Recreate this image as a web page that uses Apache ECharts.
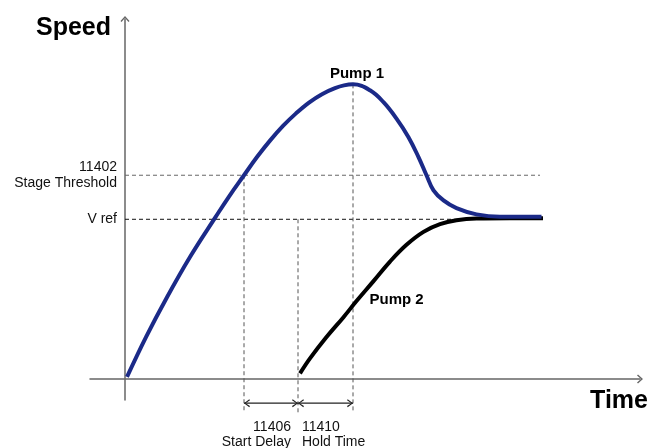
<!DOCTYPE html>
<html>
<head>
<meta charset="utf-8">
<script src="https://cdn.jsdelivr.net/npm/echarts@6/dist/echarts.min.js"></script>
<style>
  html, body { margin: 0; padding: 0; background: #fff; }
  #chart { width: 648px; height: 448px; }
</style>
</head>
<body>
<div id="chart"></div>
<script>
// schematic units: time on x, speed on y
const pump1Time = [0.4, 4.2, 8.4, 13, 18.1, 20.7, 23.8, 26.4, 29, 31.6, 34.2, 36.8, 39.4, 42, 43.8, 45.6,
  49, 51.7, 54.3, 56.7, 58.7, 60.3, 61.7, 63.7, 66.3, 70.3, 75, 83.3];
const pump1Speed = [0.6, 12, 23.4, 34.9, 46.3, 52, 58.3, 63.5, 68.2, 72.4, 76, 79.1, 81.5, 83.2, 84, 84.3,
  82.6, 79.2, 74.5, 69.2, 63.5, 58.3, 54, 51.1, 48.9, 47.1, 46.4, 46.4];
const pump2Time = [35, 37, 40.3, 43.7, 46.3, 49.7, 53, 56.3, 59.7, 63, 66.3, 70.3, 77, 83.6];
const pump2Speed = [1.6, 5.9, 12, 17.7, 22.3, 28, 33.6, 38.4, 42.1, 44.3, 45.4, 45.9, 46, 46];

const thresholdSpeed = 58.3;
const vrefSpeed = 45.7;
const speedTicks = [thresholdSpeed, vrefSpeed];
const speedTickLabels = ["11402\nStage Threshold", "V ref"];

// threshold crossing, pump 2 start, pump 1 peak
const markTimes = [23.8, 34.6, 45.6];
const markTops = [thresholdSpeed, vrefSpeed, 84.3];
const guideBottom = -9.7;
const dimSpeed = -6.9;
const dimLabels = ["11406\nStart Delay", "11410\nHold Time"];

const font = "Liberation Sans, Arial, sans-serif";
const axisArrow = "path://M4.5,0 L9,5 L8,6 L4.5,2 L1,6 L0,5 Z";
const chevL = "path://M0,4 L6,0 L6.8,1.1 L1.8,4 L6.8,6.9 L6,8 Z";
const chevR = "path://M7,4 L1,0 L0.2,1.1 L5.2,4 L0.2,6.9 L1,8 Z";

const peakIdx = 15;
const pump2LabelIdx = 4;

const chart = echarts.init(document.getElementById("chart"));

function guide(data, color) {
  return {
    type: "line",
    data: data,
    symbol: "none",
    clip: false,
    silent: true,
    lineStyle: { color: color, width: 1, type: [4, 3] },
    z: 1
  };
}

function dimension(t0, t1) {
  return {
    type: "line",
    data: [
      { value: [t0, dimSpeed], symbol: chevL, symbolOffset: [3, 0] },
      { value: [t1, dimSpeed], symbol: chevR, symbolOffset: [-3, 0] }
    ],
    showSymbol: true,
    symbolSize: [6, 8],
    clip: false,
    silent: true,
    itemStyle: { color: "#222" },
    lineStyle: { color: "#222", width: 1.2 }
  };
}

const verticals = markTimes.map((t, i) => guide([[t, markTops[i]], [t, guideBottom]], "#555"));

const series = [
  guide([[0, thresholdSpeed], [83, thresholdSpeed]], "#666"),
  guide([[0, vrefSpeed], [84, vrefSpeed]], "#111"),
  ...verticals,
  dimension(markTimes[0], markTimes[1]),
  dimension(markTimes[1], markTimes[2]),
  {
    name: "Pump 2",
    type: "line",
    data: pump2Time.map((t, i) => [t, pump2Speed[i]]),
    smooth: 0.4,
    symbol: "none",
    lineStyle: { color: "#000", width: 4 },
    z: 3
  },
  {
    name: "Pump 1",
    type: "line",
    data: pump1Time.map((t, i) => [t, pump1Speed[i]]),
    smooth: 0.4,
    symbol: "none",
    lineStyle: { color: "#1b2a88", width: 4 },
    z: 4
  },
  {
    // text annotations anchored on data points
    type: "scatter",
    symbolSize: 0,
    clip: false,
    silent: true,
    z: 5,
    itemStyle: { opacity: 1 },
    label: { show: true, position: "inside", color: "#000", opacity: 1, fontFamily: font },
    data: [
      {
        value: [pump1Time[peakIdx], pump1Speed[peakIdx]],
        label: { formatter: "Pump 1", fontWeight: "bold", fontSize: 15, offset: [4, -11] }
      },
      {
        value: [pump2Time[pump2LabelIdx], pump2Speed[pump2LabelIdx]],
        label: { formatter: "Pump 2", fontWeight: "bold", fontSize: 15, align: "left", offset: [13, -1] }
      },
      {
        value: [markTimes[1], dimSpeed],
        label: { formatter: dimLabels[0], fontSize: 14, lineHeight: 15, color: "#111", align: "right", offset: [-7, 31] }
      },
      {
        value: [markTimes[1], dimSpeed],
        label: { formatter: dimLabels[1], fontSize: 14, lineHeight: 15, color: "#111", align: "left", offset: [4, 31] }
      }
    ]
  }
];

const option = {
  animation: false,
  backgroundColor: "#fff",
  grid: { left: 90, right: 8, top: 19, bottom: 48, containLabel: false, outerBoundsMode: "none" },
  xAxis: {
    type: "value",
    min: -7,
    max: 103,
    name: "Time",
    nameLocation: "end",
    nameGap: 8,
    nameTextStyle: {
      fontSize: 25, fontWeight: "bold", color: "#000", fontFamily: font,
      align: "right", verticalAlign: "top", padding: [10, 0, 0, 0]
    },
    axisLine: {
      show: true, onZero: true,
      symbol: ["none", axisArrow], symbolSize: [9, 6],
      lineStyle: { color: "#666", width: 1.5 }
    },
    axisTick: { show: false },
    axisLabel: { show: false },
    splitLine: { show: false }
  },
  yAxis: {
    type: "value",
    min: -6,
    max: 103,
    name: "Speed",
    nameLocation: "end",
    nameGap: -9,
    nameTextStyle: {
      fontSize: 25, fontWeight: "bold", color: "#000", fontFamily: font,
      align: "right", verticalAlign: "middle", padding: [0, 14, 0, 0]
    },
    axisLine: {
      show: true, onZero: true,
      symbol: ["none", axisArrow], symbolSize: [9, 6],
      lineStyle: { color: "#666", width: 1.5 }
    },
    axisTick: { show: false },
    splitLine: { show: false },
    axisLabel: {
      customValues: speedTicks,
      formatter: v => speedTickLabels[speedTicks.indexOf(v)],
      fontSize: 14,
      lineHeight: 16,
      color: "#111",
      margin: -27,
      fontFamily: font
    }
  },
  series: series
};

chart.setOption(option);
</script>
</body>
</html>
